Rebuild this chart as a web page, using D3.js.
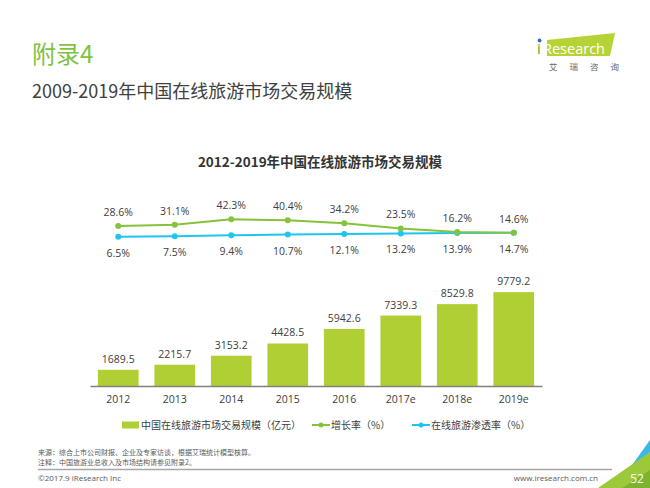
<!DOCTYPE html>
<html>
<head>
<meta charset="utf-8">
<script src="https://cdn.jsdelivr.net/npm/d3@7"></script>
<style>
  body { margin: 0; background: #fff; }
  svg { display: block; font-family: "Noto Sans CJK SC", "Open Sans", sans-serif; }
</style>
</head>
<body>
<div class="chart"></div>
<script>
// data
const years = ["2012", "2013", "2014", "2015", "2016", "2017e", "2018e", "2019e"];
const scale = [1689.5, 2215.7, 3153.2, 4428.5, 5942.6, 7339.3, 8529.8, 9779.2];
const growth = [28.6, 31.1, 42.3, 40.4, 34.2, 23.5, 16.2, 14.6];
const penetration = [6.5, 7.5, 9.4, 10.7, 12.1, 13.2, 13.9, 14.7];
const legendLabels = ["中国在线旅游市场交易规模（亿元）", "增长率（%）", "在线旅游渗透率（%）"];

const W = 650, H = 488;
const barColor = "#b0cf34", greenLine = "#86c33c", blueLine = "#1fc5f0";
const textColor = "#404040";

const svg = d3.select(".chart").append("svg")
    .attr("width", W).attr("height", H);

// header
svg.append("text").attr("x", 32).attr("y", 63)
    .attr("font-size", 24).attr("fill", "#7fc241").text("附录4");
svg.append("text").attr("x", 32).attr("y", 98)
    .attr("font-size", 18).attr("fill", "#404040").text("2009-2019年中国在线旅游市场交易规模");

// logo
svg.append("polygon").attr("points", "547,40 615,33 610,56 547,56").attr("fill", "#b5d335");
svg.append("text").attr("x", 537).attr("y", 54).attr("font-family", "Open Sans")
    .attr("font-size", 15).attr("fill", "#7a9a1c").text("i");
svg.append("circle").attr("cx", 539.6).attr("cy", 40.5).attr("r", 1.9).attr("fill", "#2a6ebb");
svg.append("text").attr("x", 543).attr("y", 53.5).attr("font-family", "Open Sans")
    .attr("font-size", 14.5).attr("fill", "#fff").text("Research");
svg.append("text").attr("x", 549).attr("y", 70).attr("font-size", 8.5)
    .attr("fill", "#666").attr("letter-spacing", 12).text("艾瑞咨询");

// chart title
svg.append("text").attr("x", 320).attr("y", 167).attr("text-anchor", "middle")
    .attr("font-size", 13.5).attr("font-weight", "bold").attr("fill", "#333")
    .text("2012-2019年中国在线旅游市场交易规模");

// scales
const x = d3.scaleBand().domain(years).range([90, 542])
    .paddingInner(0.28).paddingOuter(0.14);
const yBar = d3.scaleLinear().domain([0, 10000]).range([386, 290]);
const yLine = d3.scaleLinear().domain([0, 50]).range([239.8, 215.6]);

// bars
svg.selectAll(".bar").data(years).enter().append("rect")
    .attr("class", "bar")
    .attr("x", d => x(d))
    .attr("y", (d, i) => yBar(scale[i]))
    .attr("width", x.bandwidth())
    .attr("height", (d, i) => yBar(0) - yBar(scale[i]))
    .attr("fill", barColor);

svg.selectAll(".bar-label").data(years).enter().append("text")
    .attr("x", d => x(d) + x.bandwidth() / 2)
    .attr("y", (d, i) => yBar(scale[i]) - 7)
    .attr("text-anchor", "middle").attr("font-family", "Open Sans")
    .attr("font-size", 10.5).attr("fill", textColor)
    .text((d, i) => scale[i].toFixed(1));

// x axis
const xAxis = d3.axisBottom(x).tickSize(0).tickPadding(10);
const gx = svg.append("g").attr("transform", "translate(0,386)").call(xAxis);
gx.select(".domain").attr("stroke", "#808080").attr("stroke-width", 1.5);
gx.selectAll("text").attr("font-family", "Open Sans").attr("font-size", 10.5).attr("fill", textColor);

// lines
const cx = d => x(d) + x.bandwidth() / 2;
function drawLine(vals, color, dy) {
  const line = d3.line().x((v, i) => cx(years[i])).y(v => yLine(v));
  svg.append("path").datum(vals).attr("d", line)
      .attr("fill", "none").attr("stroke", color).attr("stroke-width", 2);
  svg.selectAll(null).data(vals).enter().append("circle")
      .attr("cx", (v, i) => cx(years[i])).attr("cy", v => yLine(v))
      .attr("r", 3).attr("fill", color);
  svg.selectAll(null).data(vals).enter().append("text")
      .attr("x", (v, i) => cx(years[i])).attr("y", v => yLine(v) + dy)
      .attr("text-anchor", "middle").attr("font-family", "Open Sans")
      .attr("font-size", 10.5).attr("fill", textColor)
      .text(v => v.toFixed(1) + "%");
}
drawLine(penetration, blueLine, 20);
drawLine(growth, greenLine, -10);

// legend
const lg = svg.append("g").attr("font-size", 10).attr("fill", textColor);
lg.append("rect").attr("x", 122).attr("y", 421.5).attr("width", 17).attr("height", 7).attr("fill", barColor);
lg.append("text").attr("x", 141).attr("y", 429).text(legendLabels[0]);
[[312, greenLine, legendLabels[1]], [412, blueLine, legendLabels[2]]].forEach(([lx, c, t]) => {
  lg.append("line").attr("x1", lx).attr("x2", lx + 18).attr("y1", 425).attr("y2", 425)
      .attr("stroke", c).attr("stroke-width", 2);
  lg.append("circle").attr("cx", lx + 9).attr("cy", 425).attr("r", 2.5).attr("fill", c);
  lg.append("text").attr("x", lx + 19).attr("y", 429).text(t);
});

// footer
const ft = svg.append("g").attr("font-size", 7).attr("fill", "#595959");
ft.append("text").attr("x", 38).attr("y", 455).text("来源：综合上市公司财报、企业及专家访谈，根据艾瑞统计模型核算。");
ft.append("text").attr("x", 38).attr("y", 464.5).text("注释：中国旅游业总收入及市场结构请参见附录2。");
svg.append("line").attr("x1", 38).attr("x2", 612).attr("y1", 469.5).attr("y2", 469.5)
    .attr("stroke", "#a6a6a6").attr("stroke-width", 1.5);
svg.append("text").attr("x", 38).attr("y", 481).attr("font-family", "Open Sans")
    .attr("font-size", 8).attr("fill", "#595959").text("©2017.9 iResearch Inc");
svg.append("text").attr("x", 598).attr("y", 481).attr("text-anchor", "end").attr("font-family", "Open Sans")
    .attr("font-size", 8).attr("fill", "#595959").text("www.iresearch.com.cn");

// corner
svg.append("polygon").attr("points", "650,440 650,462 636,474 630,468").attr("fill", "#3cb8e8");
svg.append("polygon").attr("points", "650,452 650,488 598,488").attr("fill", "#9cc93a");
svg.append("polygon").attr("points", "650,470 650,488 622,488").attr("fill", "#7db42e");
svg.append("text").attr("x", 637).attr("y", 483).attr("text-anchor", "middle").attr("font-family", "Open Sans")
    .attr("font-size", 12).attr("fill", "#fff").text("52");
</script>
</body>
</html>
